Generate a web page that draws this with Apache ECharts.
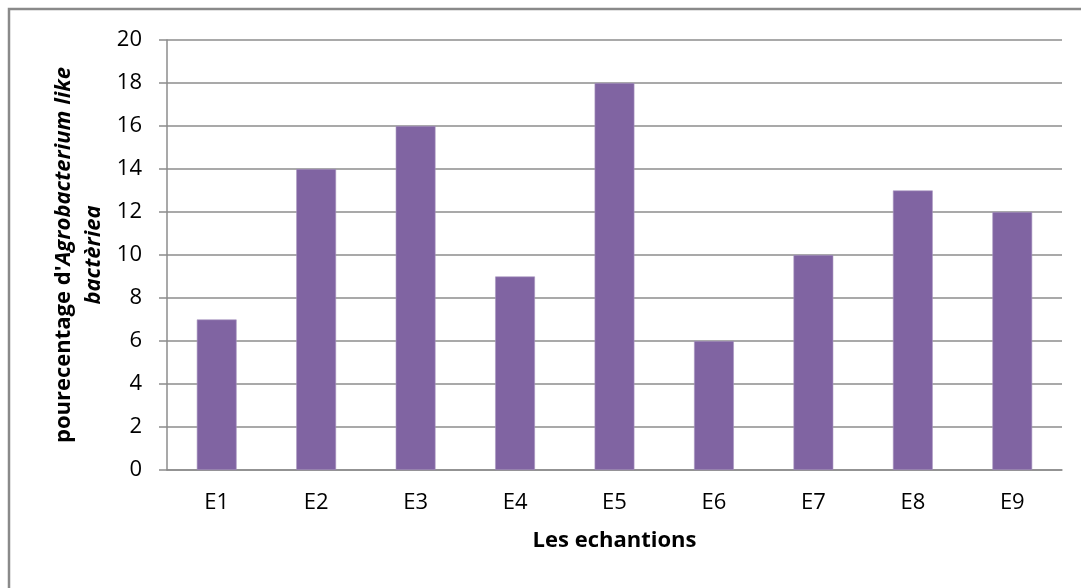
<!DOCTYPE html>
<html>
<head>
<meta charset="utf-8">
<script src="https://cdn.jsdelivr.net/npm/echarts@6/dist/echarts.min.js"></script>
<style>
  html, body { margin: 0; padding: 0; background: #ffffff; }
  #chart { width: 1081px; height: 588px; }
</style>
</head>
<body>
<div id="chart"></div>
<script>
// Sample names and the percentage measured for each
const categories = ['E1', 'E2', 'E3', 'E4', 'E5', 'E6', 'E7', 'E8', 'E9'];
const percentages = [7, 14, 16, 9, 18, 6, 10, 13, 12];
const yTicks = { min: 0, max: 20, interval: 2 };

const FONT = '"Open Sans", "Liberation Sans", sans-serif';
const GRID_GREY = '#8c8c8c';

const chart = echarts.init(document.getElementById('chart'), null, { renderer: 'canvas' });

chart.setOption({
  animation: false,
  backgroundColor: '#ffffff',
  textStyle: { fontFamily: FONT },
  graphic: [{
    // frame around the chart area (runs off the right and bottom edges)
    type: 'rect',
    shape: { x: 9, y: 9, width: 1200, height: 700 },
    style: { fill: 'none', stroke: '#8a8a8a', lineWidth: 2.5 },
    silent: true,
    z: -1
  }],
  grid: { left: 167, right: 19, top: 40, bottom: 118, containLabel: false },
  xAxis: {
    type: 'category',
    data: categories,
    name: 'Les echantions',
    nameLocation: 'middle',
    nameGap: 60,
    nameTextStyle: { fontFamily: FONT, fontSize: 22, fontWeight: 'bold', color: '#000' },
    axisLine: { show: true, lineStyle: { color: GRID_GREY, width: 1.5 } },
    axisTick: { show: false },
    axisLabel: { fontFamily: FONT, fontSize: 22, color: '#000', margin: 22 },
    splitLine: { show: false }
  },
  yAxis: {
    type: 'value',
    min: yTicks.min,
    max: yTicks.max,
    interval: yTicks.interval,
    name: "{b|pourecentage d'}{bi|Agrobacterium like}\n{bi|bactèriea}",
    nameLocation: 'middle',
    nameGap: 58,
    nameRotate: 90,
    nameTextStyle: {
      fontFamily: FONT,
      fontSize: 22,
      fontWeight: 'bold',
      color: '#000',
      align: 'center',
      rich: {
        b: { fontFamily: FONT, fontSize: 22, fontWeight: 'bold', color: '#000', lineHeight: 30 },
        bi: { fontFamily: FONT, fontSize: 22, fontWeight: 'bold', fontStyle: 'italic', color: '#000', lineHeight: 30 }
      }
    },
    axisLine: { show: true, lineStyle: { color: GRID_GREY, width: 1.5 } },
    axisTick: { show: true, inside: false, length: 8, lineStyle: { color: GRID_GREY, width: 1.5 } },
    axisLabel: { fontFamily: FONT, fontSize: 22, color: '#000', margin: 25 },
    splitLine: { show: true, lineStyle: { color: GRID_GREY, width: 1.5 } }
  },
  series: [{
    type: 'bar',
    data: percentages,
    barWidth: '40%',
    itemStyle: { color: '#8064a2', borderColor: '#a896c0', borderWidth: 0.6 }
  }]
});
</script>
</body>
</html>
